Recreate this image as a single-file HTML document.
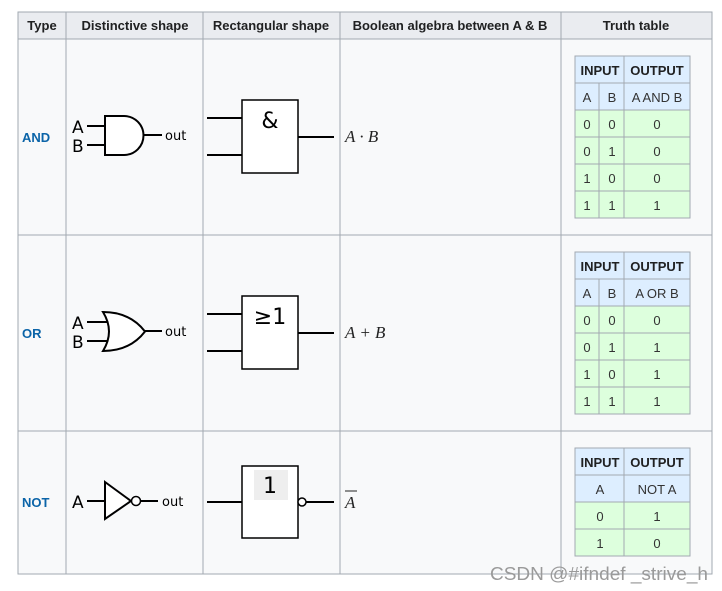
<!DOCTYPE html>
<html><head><meta charset="utf-8"><style>
body{margin:0;background:#fff;width:722px;height:591px;overflow:hidden}
svg{display:block}
.h{font:bold 13px "Liberation Sans",sans-serif;fill:#202122}
.t{font:13px "Liberation Sans",sans-serif;fill:#333}
.l{font:bold 13px "Liberation Sans",sans-serif;fill:#0b64a8}
.o{font:13px "DejaVu Sans",sans-serif;fill:#000}
.p{font:17px "DejaVu Sans",sans-serif;fill:#000}
.m{font:italic 17px "Liberation Serif",serif;fill:#222}
</style></head><body>
<svg width="722" height="591" xmlns="http://www.w3.org/2000/svg">
<rect x="18" y="12" width="694" height="562" fill="#f8f9fa" stroke="#a2a9b1"/>
<rect x="18" y="12" width="694" height="27" fill="#eaecf0" stroke="#a2a9b1"/>
<g stroke="#a2a9b1" stroke-width="1">
<line x1="66" y1="12" x2="66" y2="574"/><line x1="203" y1="12" x2="203" y2="574"/>
<line x1="340" y1="12" x2="340" y2="574"/><line x1="561" y1="12" x2="561" y2="574"/>
<line x1="18" y1="235" x2="712" y2="235"/><line x1="18" y1="431" x2="712" y2="431"/>
</g>
<text class="h" x="42" y="30" text-anchor="middle">Type</text>
<text class="h" x="135" y="30" text-anchor="middle">Distinctive shape</text>
<text class="h" x="271" y="30" text-anchor="middle">Rectangular shape</text>
<text class="h" x="450" y="30" text-anchor="middle">Boolean algebra between A &amp; B</text>
<text class="h" x="636" y="30" text-anchor="middle">Truth table</text>
<text class="l" x="22" y="142">AND</text>
<text class="l" x="22" y="338">OR</text>
<text class="l" x="22" y="507">NOT</text>
<g stroke="#000" stroke-width="2" fill="#fff">
<line x1="87" y1="126" x2="105" y2="126"/><line x1="87" y1="145" x2="105" y2="145"/>
<path d="M105 116 H124 A19.5 19.5 0 0 1 124 155 H105 Z"/>
<line x1="143" y1="135" x2="162" y2="135"/>
<line x1="207" y1="118" x2="242" y2="118"/><line x1="207" y1="155" x2="242" y2="155"/>
<rect x="242" y="100" width="56" height="73" stroke-width="1.5"/>
<line x1="298" y1="137" x2="334" y2="137"/>
<line x1="87" y1="322" x2="110" y2="322"/><line x1="87" y1="341" x2="110" y2="341"/>
<path d="M103 312 Q115 331.5 103 351 Q130 351 145 331.5 Q130 312 103 312 Z"/>
<line x1="145" y1="331" x2="162" y2="331"/>
<line x1="207" y1="314" x2="242" y2="314"/><line x1="207" y1="351" x2="242" y2="351"/>
<rect x="242" y="296" width="56" height="73" stroke-width="1.5"/>
<line x1="298" y1="333" x2="334" y2="333"/>
<line x1="87" y1="501" x2="105" y2="501"/>
<path d="M105 482 L131 501 L105 519 Z"/>
<circle cx="136" cy="501" r="4.5" stroke-width="1.5"/>
<line x1="141" y1="501" x2="158" y2="501"/>
<line x1="207" y1="502" x2="242" y2="502"/>
<rect x="242" y="466" width="56" height="72" stroke-width="1.5"/>
<circle cx="302" cy="502" r="4" stroke-width="1.5"/>
<line x1="306" y1="502" x2="334" y2="502"/>
</g>
<rect x="254" y="470" width="34" height="30" fill="#eee"/>
<text class="p" x="72" y="133">A</text><text class="p" x="72" y="152">B</text><text class="o" x="165" y="140">out</text>
<text class="p" x="72" y="329">A</text><text class="p" x="72" y="348">B</text><text class="o" x="165" y="336">out</text>
<text class="p" x="72" y="508">A</text><text class="o" x="162" y="506">out</text>
<text x="270" y="128" style="font:22px 'DejaVu Sans',sans-serif" text-anchor="middle">&amp;</text>
<text x="270" y="324" style="font:22px 'DejaVu Sans',sans-serif" text-anchor="middle">≥1</text>
<text x="270" y="493" style="font:22px 'DejaVu Sans',sans-serif" text-anchor="middle">1</text>
<text class="m" x="345" y="142">A · B</text>
<text class="m" x="345" y="338">A + B</text>
<text class="m" x="345" y="508">A</text>
<line x1="345" y1="491" x2="357" y2="491" stroke="#222" stroke-width="1"/>
<g>
<g>
<rect x="575" y="56" width="115" height="54" fill="#ddeeff" stroke="#a2a9b1"/>
<rect x="575" y="110" width="115" height="108" fill="#ddffdd" stroke="#a2a9b1"/>
<g stroke="#a2a9b1"><line x1="575" y1="83" x2="690" y2="83"/><line x1="575" y1="137" x2="690" y2="137"/><line x1="575" y1="164" x2="690" y2="164"/><line x1="575" y1="191" x2="690" y2="191"/><line x1="599" y1="83" x2="599" y2="218"/><line x1="624" y1="56" x2="624" y2="218"/></g>
<text class="h" x="600" y="75" text-anchor="middle">INPUT</text><text class="h" x="657" y="75" text-anchor="middle">OUTPUT</text>
<text class="t" x="587" y="102" text-anchor="middle">A</text><text class="t" x="612" y="102" text-anchor="middle">B</text><text class="t" x="657" y="102" text-anchor="middle">A AND B</text>
<text class="t" x="587" y="129" text-anchor="middle">0</text><text class="t" x="612" y="129" text-anchor="middle">0</text><text class="t" x="657" y="129" text-anchor="middle">0</text>
<text class="t" x="587" y="156" text-anchor="middle">0</text><text class="t" x="612" y="156" text-anchor="middle">1</text><text class="t" x="657" y="156" text-anchor="middle">0</text>
<text class="t" x="587" y="183" text-anchor="middle">1</text><text class="t" x="612" y="183" text-anchor="middle">0</text><text class="t" x="657" y="183" text-anchor="middle">0</text>
<text class="t" x="587" y="210" text-anchor="middle">1</text><text class="t" x="612" y="210" text-anchor="middle">1</text><text class="t" x="657" y="210" text-anchor="middle">1</text>
</g>
<g transform="translate(0,196)">
<rect x="575" y="56" width="115" height="54" fill="#ddeeff" stroke="#a2a9b1"/>
<rect x="575" y="110" width="115" height="108" fill="#ddffdd" stroke="#a2a9b1"/>
<g stroke="#a2a9b1"><line x1="575" y1="83" x2="690" y2="83"/><line x1="575" y1="137" x2="690" y2="137"/><line x1="575" y1="164" x2="690" y2="164"/><line x1="575" y1="191" x2="690" y2="191"/><line x1="599" y1="83" x2="599" y2="218"/><line x1="624" y1="56" x2="624" y2="218"/></g>
<text class="h" x="600" y="75" text-anchor="middle">INPUT</text><text class="h" x="657" y="75" text-anchor="middle">OUTPUT</text>
<text class="t" x="587" y="102" text-anchor="middle">A</text><text class="t" x="612" y="102" text-anchor="middle">B</text><text class="t" x="657" y="102" text-anchor="middle">A OR B</text>
<text class="t" x="587" y="129" text-anchor="middle">0</text><text class="t" x="612" y="129" text-anchor="middle">0</text><text class="t" x="657" y="129" text-anchor="middle">0</text>
<text class="t" x="587" y="156" text-anchor="middle">0</text><text class="t" x="612" y="156" text-anchor="middle">1</text><text class="t" x="657" y="156" text-anchor="middle">1</text>
<text class="t" x="587" y="183" text-anchor="middle">1</text><text class="t" x="612" y="183" text-anchor="middle">0</text><text class="t" x="657" y="183" text-anchor="middle">1</text>
<text class="t" x="587" y="210" text-anchor="middle">1</text><text class="t" x="612" y="210" text-anchor="middle">1</text><text class="t" x="657" y="210" text-anchor="middle">1</text>
</g>
<g>
<rect x="575" y="448" width="115" height="54" fill="#ddeeff" stroke="#a2a9b1"/>
<rect x="575" y="502" width="115" height="54" fill="#ddffdd" stroke="#a2a9b1"/>
<g stroke="#a2a9b1"><line x1="575" y1="475" x2="690" y2="475"/><line x1="575" y1="529" x2="690" y2="529"/><line x1="624" y1="448" x2="624" y2="556"/></g>
<text class="h" x="600" y="467" text-anchor="middle">INPUT</text><text class="h" x="657" y="467" text-anchor="middle">OUTPUT</text>
<text class="t" x="600" y="494" text-anchor="middle">A</text><text class="t" x="657" y="494" text-anchor="middle">NOT A</text>
<text class="t" x="600" y="521" text-anchor="middle">0</text><text class="t" x="657" y="521" text-anchor="middle">1</text>
<text class="t" x="600" y="548" text-anchor="middle">1</text><text class="t" x="657" y="548" text-anchor="middle">0</text>
</g>
</g>
<text x="490" y="580" textLength="218" lengthAdjust="spacingAndGlyphs" style="font:18px 'Liberation Sans',sans-serif;fill:#9a9a9a">CSDN @#ifndef _strive_h</text>
</svg>
</body></html>
